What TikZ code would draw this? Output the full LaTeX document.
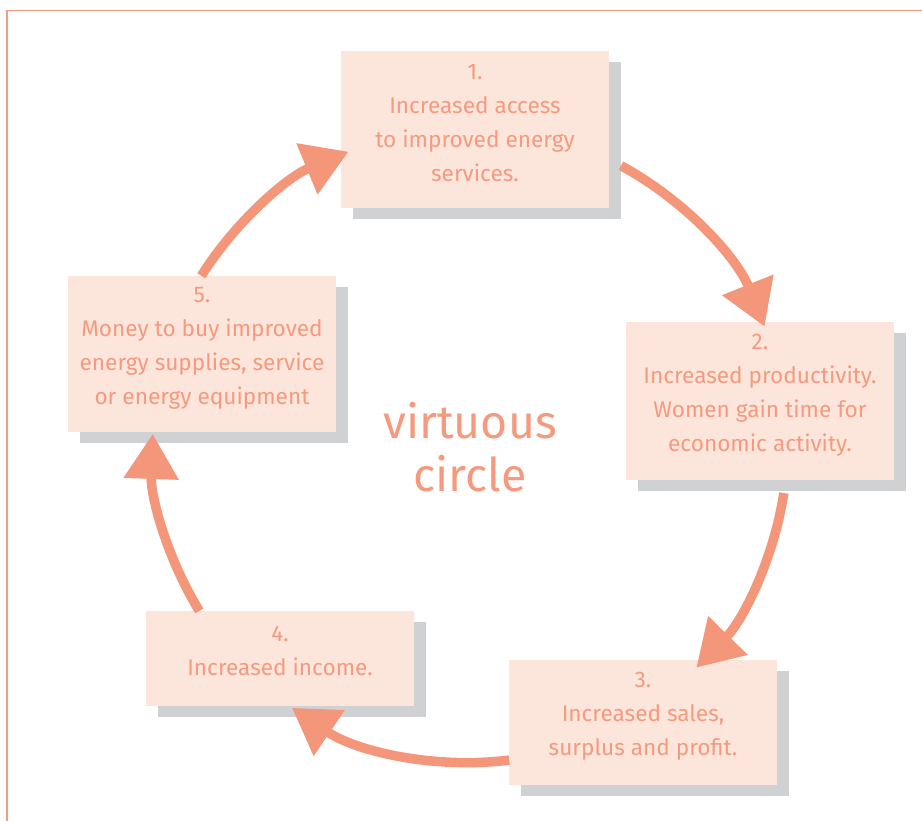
\documentclass[tikz,border=0pt]{standalone}
\usepackage{fontspec}
\setmainfont{Fira Sans}
\usetikzlibrary{arrows.meta,shadows}
\definecolor{salmon}{HTML}{F4967A}
\definecolor{salmontext}{HTML}{F59A7E}
\definecolor{boxfill}{HTML}{FCE6DC}
\definecolor{shade}{HTML}{D0D1D3}
\definecolor{framecol}{HTML}{F79B80}
\tikzset{
  box/.style={rectangle, fill=boxfill, minimum width=268pt, inner sep=0pt,
    drop shadow={shadow xshift=12pt, shadow yshift=-11pt, fill=shade, opacity=1}},
  txt/.style={align=center, text=salmontext, inner sep=0pt, font=\fontsize{22.6}{34}\selectfont},
  looparrow/.style={draw=salmon, line width=9.5pt, -{Triangle[length=45pt,width=53pt]}},
}
\begin{document}
\begin{tikzpicture}[x=1pt,y=-1pt]
\useasboundingbox (0,0) rectangle (922,821);
\fill[white] (0,0) rectangle (922,821);
\draw[framecol, line width=1.5pt] (7,830) -- (7,10.5) -- (930,10.5);

% boxes
\node[box, minimum height=157pt] (b1) at (475,129.5) {};
\node[box, minimum height=158pt] (b2) at (760,401) {};
\node[box, minimum height=125pt] (b3) at (643,722.5) {};
\node[box, minimum height=95pt]  (b4) at (280,658.5) {};
\node[box, minimum height=156pt] (b5) at (202,354) {};

\node[txt] (t1) at ([yshift=6pt]b1.center) {1.\\Increased access\\to improved energy\\services.};
\node[txt] (t2) at ([yshift=6pt]b2.center) {2.\\Increased productivity.\\Women gain time for\\economic activity.};
\node[txt] (t3) at ([yshift=6pt]b3.center) {3.\\Increased sales,\\surplus and profit.};
\node[txt] (t4) at ([yshift=8pt]b4.center) {4.\\Increased income.};
\node[txt] (t5) at ([yshift=6pt]b5.center) {5.\\Money to buy improved\\energy supplies, service\\or energy equipment};

\node[align=center, text=salmontext, inner sep=0pt, font=\fontsize{46.5}{53}\selectfont] (vc) at (470,447) {virtuous\\circle};

% arrows on the circle
\coordinate (O) at (470,445);
\path (O) ++(-61.6:317.5) coordinate (s1);
\path (O) ++(8.7:317.5) coordinate (s2);
\path (O) ++(82.9:317.5) coordinate (s3);
\path (O) ++(148.5:317.5) coordinate (s4);
\path (O) ++(-147.8:317.5) coordinate (s5);
\draw[looparrow] (s1) arc[start angle=-61.6, end angle=-21.9, radius=317.5];
\draw[looparrow] (s2) arc[start angle=8.7, end angle=44.5, radius=317.5];
\draw[looparrow] (s3) arc[start angle=82.9, end angle=124.1, radius=317.5];
\draw[looparrow] (s4) arc[start angle=148.5, end angle=182, radius=317.5];
\draw[looparrow] (s5) arc[start angle=-147.8, end angle=-112.5, radius=317.5];
\end{tikzpicture}
\end{document}
